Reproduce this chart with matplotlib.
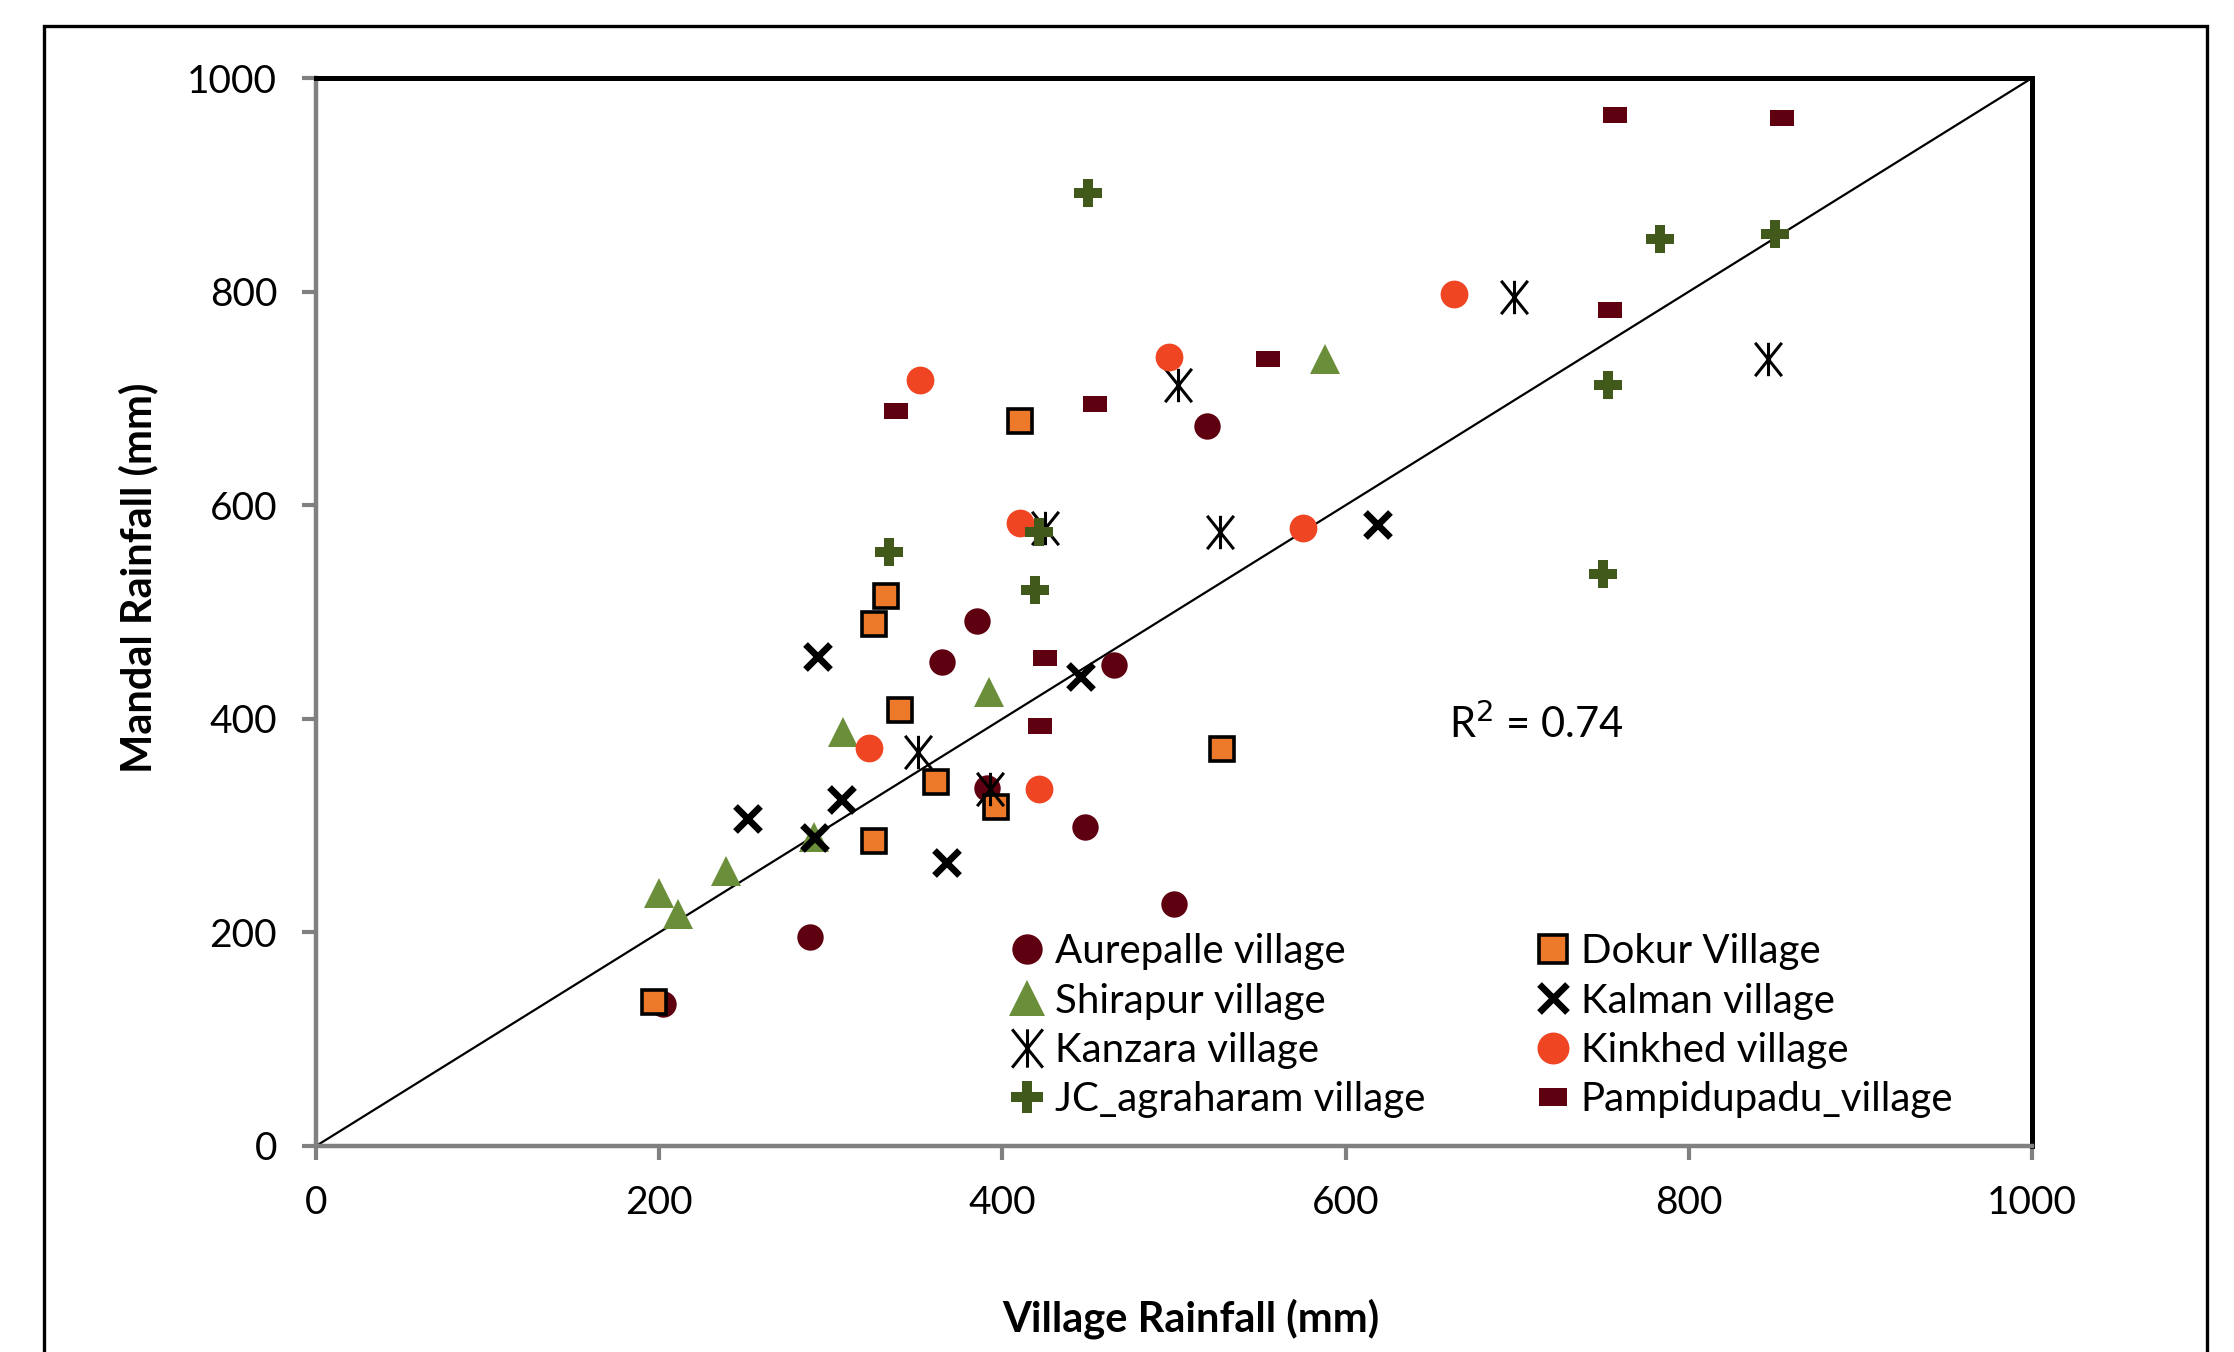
import numpy as np
import matplotlib.pyplot as plt
from matplotlib.path import Path
from matplotlib.patches import Rectangle

plt.rcParams['font.family'] = ['Lato', 'DejaVu Sans']

# ---------------------------
# Data (village vs mandal rainfall, mm)
# ---------------------------
aurepalle_x = [202, 288, 365, 385, 465, 391, 448, 500, 519]
aurepalle_y = [133, 196, 453, 492, 450, 335, 299, 227, 674]

dokur_x = [197, 325, 325, 332, 340, 361, 396, 410, 528]
dokur_y = [135, 286, 489, 515, 408, 341, 317, 679, 372]

shirapur_x = [200, 211, 239, 290, 307, 392, 588]
shirapur_y = [237, 217, 257, 289, 388, 425, 737]

kalman_x = [251, 292, 290, 306, 367, 445, 618]
kalman_y = [307, 459, 289, 325, 266, 440, 582]

kanzara_x = [351, 393, 425, 502, 527, 698, 846]
kanzara_y = [369, 334, 579, 713, 575, 795, 737]

kinkhed_x = [322, 352, 410, 421, 497, 575, 663]
kinkhed_y = [373, 717, 583, 334, 739, 579, 798]

jc_x = [334, 419, 421, 450, 750, 753, 783, 850]
jc_y = [556, 521, 575, 892, 536, 713, 849, 854]

pampi_x = [338, 425, 422, 454, 555, 754, 757, 854]
pampi_y = [688, 457, 393, 695, 737, 783, 965, 963]

r2_text = "R$^{2}$ = 0.74"

# ---------------------------
# Custom marker shapes
# ---------------------------
asterisk = Path([(-0.8, -1), (0.8, 1), (-0.8, 1), (0.8, -1), (0, -1), (0, 1)],
                [Path.MOVETO, Path.LINETO, Path.MOVETO, Path.LINETO, Path.MOVETO, Path.LINETO])
flat_rect = Path([(-1, -0.68), (1, -0.68), (1, 0.68), (-1, 0.68), (-1, -0.68)],
                 [Path.MOVETO, Path.LINETO, Path.LINETO, Path.LINETO, Path.CLOSEPOLY])

fig = plt.figure(figsize=(11.17, 6.76), dpi=200)
ax = fig.add_axes([0.1415, 0.1524, 0.7681, 0.7899])

maroon = "#5e0010"
h_aure, = ax.plot(aurepalle_x, aurepalle_y, "o", color=maroon, ms=9.5, mew=0, label="Aurepalle village")
h_dok, = ax.plot(dokur_x, dokur_y, "s", color="#ec7a2a", mec="black", mew=1.3, ms=8.5, label="Dokur Village")
h_shir, = ax.plot(shirapur_x, shirapur_y, "^", color="#6b8e3b", mew=0, ms=11, label="Shirapur village")
h_kal, = ax.plot(kalman_x, kalman_y, "x", color="black", mew=2.4, ms=9, label="Kalman village")
h_kan, = ax.plot(kanzara_x, kanzara_y, marker=asterisk, ls="none", mfc="none", mec="black",
                 mew=1.1, ms=12, label="Kanzara village")
h_kin, = ax.plot(kinkhed_x, kinkhed_y, "o", color="#f04523", mew=0, ms=10, label="Kinkhed village")
h_jc, = ax.plot(jc_x, jc_y, "P", color="#42591c", mew=0, ms=10, label="JC_agraharam village")
h_pam, = ax.plot(pampi_x, pampi_y, marker=flat_rect, ls="none", color=maroon, mew=0, ms=8.5,
                 label="Pampidupadu_village")

# 1:1 line
ax.plot([0, 1000], [0, 1000], color="black", lw=0.8, zorder=1)

ax.text(660, 395, r2_text, fontsize=15, ha="left", va="center")

ax.set_xlim(0, 1000)
ax.set_ylim(0, 1000)
ax.set_xticks(np.arange(0, 1001, 200))
ax.set_yticks(np.arange(0, 1001, 200))
ax.tick_params(direction="out", length=5, width=1.5, color="#808080", labelsize=14, pad=9)

for side in ["left", "bottom"]:
    ax.spines[side].set_color("#808080")
    ax.spines[side].set_linewidth(1.6)
for side in ["top", "right"]:
    ax.spines[side].set_color("black")
    ax.spines[side].set_linewidth(1.8)

ax.set_xlabel("Village Rainfall (mm)", fontsize=15, fontweight="bold")
ax.set_ylabel("Mandal Rainfall (mm)", fontsize=15, fontweight="bold")
ax.xaxis.set_label_coords(0.51, -0.143)
ax.yaxis.set_label_coords(-0.092, 0.532)

handles = [h_aure, h_shir, h_kan, h_jc, h_dok, h_kal, h_kin, h_pam]
ax.legend(handles=handles, ncol=2, frameon=False, loc="upper left",
          bbox_to_anchor=(0.405, 0.199), borderaxespad=0, borderpad=0,
          fontsize=14.5, handlelength=0.8, handletextpad=0.3, columnspacing=2.75,
          labelspacing=0.3, markerscale=1.15)

# outer chart frame
fig.patches.append(Rectangle((0.0197, -0.05), 0.9682, 1.0308, transform=fig.transFigure,
                             fill=False, edgecolor="black", lw=1.2))

fig.savefig("out.png", dpi=200)
